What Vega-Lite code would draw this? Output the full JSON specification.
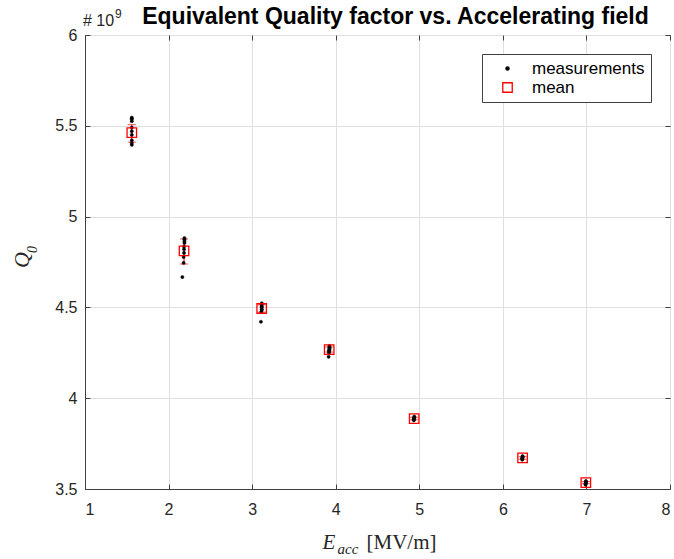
{
  "$schema": "https://vega.github.io/schema/vega-lite/v6.json",
  "width": 585,
  "height": 454,
  "autosize": "none",
  "padding": {"left": 85, "top": 35, "right": 4, "bottom": 70},
  "background": "white",
  "config": {"view": {"stroke": "#404040", "strokeWidth": 1}, "font": "Liberation Sans"},
  "title": {"text": "Equivalent Quality factor vs. Accelerating field", "fontSize": 23, "fontWeight": "bold", "font": "Liberation Sans", "color": "black", "anchor": "middle", "dx": 18, "offset": -21},
  "datasets": {
    "meas": [
      {"E": 1.56, "Q": 5.545, "series": "measurements"},
      {"E": 1.56, "Q": 5.54, "series": "measurements"},
      {"E": 1.56, "Q": 5.535, "series": "measurements"},
      {"E": 1.56, "Q": 5.525, "series": "measurements"},
      {"E": 1.56, "Q": 5.49, "series": "measurements"},
      {"E": 1.56, "Q": 5.47, "series": "measurements"},
      {"E": 1.56, "Q": 5.45, "series": "measurements"},
      {"E": 1.56, "Q": 5.42, "series": "measurements"},
      {"E": 1.56, "Q": 5.405, "series": "measurements"},
      {"E": 1.56, "Q": 5.395, "series": "measurements"},
      {"E": 2.19, "Q": 4.882, "series": "measurements"},
      {"E": 2.19, "Q": 4.875, "series": "measurements"},
      {"E": 2.19, "Q": 4.865, "series": "measurements"},
      {"E": 2.19, "Q": 4.855, "series": "measurements"},
      {"E": 2.185, "Q": 4.835, "series": "measurements"},
      {"E": 2.185, "Q": 4.82, "series": "measurements"},
      {"E": 2.185, "Q": 4.8, "series": "measurements"},
      {"E": 2.18, "Q": 4.778, "series": "measurements"},
      {"E": 2.18, "Q": 4.745, "series": "measurements"},
      {"E": 2.165, "Q": 4.667, "series": "measurements"},
      {"E": 3.115, "Q": 4.523, "series": "measurements"},
      {"E": 3.115, "Q": 4.515, "series": "measurements"},
      {"E": 3.115, "Q": 4.505, "series": "measurements"},
      {"E": 3.115, "Q": 4.5, "series": "measurements"},
      {"E": 3.115, "Q": 4.49, "series": "measurements"},
      {"E": 3.115, "Q": 4.485, "series": "measurements"},
      {"E": 3.11, "Q": 4.475, "series": "measurements"},
      {"E": 3.105, "Q": 4.421, "series": "measurements"},
      {"E": 3.925, "Q": 4.288, "series": "measurements"},
      {"E": 3.925, "Q": 4.283, "series": "measurements"},
      {"E": 3.925, "Q": 4.278, "series": "measurements"},
      {"E": 3.925, "Q": 4.273, "series": "measurements"},
      {"E": 3.925, "Q": 4.268, "series": "measurements"},
      {"E": 3.92, "Q": 4.262, "series": "measurements"},
      {"E": 3.92, "Q": 4.257, "series": "measurements"},
      {"E": 3.92, "Q": 4.25, "series": "measurements"},
      {"E": 3.915, "Q": 4.228, "series": "measurements"},
      {"E": 4.94, "Q": 3.899, "series": "measurements"},
      {"E": 4.94, "Q": 3.894, "series": "measurements"},
      {"E": 4.94, "Q": 3.89, "series": "measurements"},
      {"E": 4.935, "Q": 3.886, "series": "measurements"},
      {"E": 4.935, "Q": 3.883, "series": "measurements"},
      {"E": 4.935, "Q": 3.878, "series": "measurements"},
      {"E": 6.236, "Q": 3.681, "series": "measurements"},
      {"E": 6.236, "Q": 3.677, "series": "measurements"},
      {"E": 6.236, "Q": 3.674, "series": "measurements"},
      {"E": 6.232, "Q": 3.669, "series": "measurements"},
      {"E": 6.232, "Q": 3.666, "series": "measurements"},
      {"E": 6.232, "Q": 3.661, "series": "measurements"},
      {"E": 6.994, "Q": 3.544, "series": "measurements"},
      {"E": 6.994, "Q": 3.54, "series": "measurements"},
      {"E": 6.994, "Q": 3.536, "series": "measurements"},
      {"E": 6.99, "Q": 3.532, "series": "measurements"},
      {"E": 6.99, "Q": 3.527, "series": "measurements"},
      {"E": 6.99, "Q": 3.523, "series": "measurements"}
    ],
    "means": [
      {"E": 1.56, "Q": 5.462, "lo": 5.41, "hi": 5.506, "series": "mean"},
      {"E": 2.185, "Q": 4.811, "lo": 4.739, "hi": 4.877, "series": "mean"},
      {"E": 3.114, "Q": 4.494, "lo": 4.474, "hi": 4.514, "series": "mean"},
      {"E": 3.922, "Q": 4.268, "lo": 4.254, "hi": 4.282, "series": "mean"},
      {"E": 4.939, "Q": 3.888, "lo": 3.881, "hi": 3.895, "series": "mean"},
      {"E": 6.236, "Q": 3.671, "lo": 3.664, "hi": 3.678, "series": "mean"},
      {"E": 6.993, "Q": 3.535, "lo": 3.529, "hi": 3.541, "series": "mean"}
    ],
    "one": [{}]
  },
  "resolve": {"axis": {"x": "independent", "y": "independent"}},
  "layer": [
    {
      "data": {"name": "means"},
      "mark": {"type": "rule", "color": "red", "strokeWidth": 1},
      "encoding": {
        "x": {"field": "E", "type": "quantitative", "scale": {"domain": [1, 8], "nice": false, "zero": false},
          "axis": {"orient": "bottom", "values": [1, 2, 3, 4, 5, 6, 7, 8], "title": null, "grid": true, "gridColor": "#dfdfdf", "tickSize": -5, "tickColor": "#404040", "domainColor": "#404040", "labelFontSize": 16, "labelColor": "#262626", "labelPadding": 17, "labelFont": "Liberation Sans"}},
        "y": {"field": "lo", "type": "quantitative", "scale": {"domain": [3.5, 6], "nice": false, "zero": false},
          "axis": {"orient": "left", "values": [3.5, 4, 4.5, 5, 5.5, 6], "format": ".1~f", "title": null, "grid": true, "gridColor": "#dfdfdf", "tickSize": -5, "tickColor": "#404040", "domainColor": "#404040", "labelFontSize": 16, "labelColor": "#262626", "labelPadding": 13, "labelFont": "Liberation Sans"}},
        "y2": {"field": "hi"}
      }
    },
    {
      "data": {"name": "means"},
      "mark": {"type": "tick", "orient": "horizontal", "size": 8, "thickness": 1, "color": "red"},
      "encoding": {
        "x": {"field": "E", "type": "quantitative", "scale": {"domain": [1, 8], "nice": false, "zero": false},
          "axis": {"orient": "top", "values": [1, 2, 3, 4, 5, 6, 7, 8], "title": null, "labels": false, "grid": false, "domain": false, "tickSize": -5, "tickColor": "#404040"}},
        "y": {"field": "lo", "type": "quantitative", "scale": {"domain": [3.5, 6], "nice": false, "zero": false},
          "axis": {"orient": "right", "values": [3.5, 4, 4.5, 5, 5.5, 6], "title": null, "labels": false, "grid": false, "domain": false, "tickSize": -5, "tickColor": "#404040"}}
      }
    },
    {
      "data": {"name": "means"},
      "mark": {"type": "tick", "orient": "horizontal", "size": 8, "thickness": 1, "color": "red"},
      "encoding": {
        "x": {"field": "E", "type": "quantitative", "axis": null},
        "y": {"field": "hi", "type": "quantitative", "axis": null}
      }
    },
    {
      "data": {"name": "meas"},
      "mark": {"type": "point", "strokeWidth": 0.5, "opacity": 1},
      "encoding": {
        "x": {"field": "E", "type": "quantitative", "axis": null},
        "y": {"field": "Q", "type": "quantitative", "axis": null},
        "fill": {"field": "series", "type": "nominal", "scale": {"domain": ["measurements", "mean"], "range": ["black", "transparent"]},
          "legend": {"orient": "none", "legendX": 397, "legendY": 19, "title": null, "labelFontSize": 17, "labelColor": "black", "labelFont": "Liberation Sans", "strokeColor": "#404040", "fillColor": "white", "padding": 6, "labelOffset": 16, "symbolOffset": 11, "rowPadding": 1, "symbolStrokeWidth": 1.3}},
        "stroke": {"field": "series", "type": "nominal", "scale": {"domain": ["measurements", "mean"], "range": ["black", "red"]}},
        "shape": {"field": "series", "type": "nominal", "scale": {"domain": ["measurements", "mean"], "range": ["circle", "square"]}},
        "size": {"field": "series", "type": "nominal", "scale": {"domain": ["measurements", "mean"], "range": [10, 90]}}
      }
    },
    {
      "data": {"name": "means"},
      "mark": {"type": "point", "strokeWidth": 1.3, "opacity": 1},
      "encoding": {
        "x": {"field": "E", "type": "quantitative", "axis": null},
        "y": {"field": "Q", "type": "quantitative", "axis": null},
        "fill": {"field": "series", "type": "nominal"},
        "stroke": {"field": "series", "type": "nominal"},
        "shape": {"field": "series", "type": "nominal"},
        "size": {"field": "series", "type": "nominal"}
      }
    },
    {
      "data": {"name": "one"},
      "mark": {"type": "text", "text": "# 10", "font": "Liberation Sans", "fontSize": 16, "align": "left", "baseline": "alphabetic", "dx": -2, "dy": -9, "color": "#262626"},
      "encoding": {"x": {"datum": 1, "type": "quantitative", "axis": null}, "y": {"datum": 6, "type": "quantitative", "axis": null}}
    },
    {
      "data": {"name": "one"},
      "mark": {"type": "text", "text": "9", "font": "Liberation Sans", "fontSize": 12, "align": "left", "baseline": "alphabetic", "dx": 30, "dy": -17, "color": "#262626"},
      "encoding": {"x": {"datum": 1, "type": "quantitative", "axis": null}, "y": {"datum": 6, "type": "quantitative", "axis": null}}
    },
    {
      "data": {"name": "one"},
      "mark": {"type": "text", "text": "E", "font": "Liberation Serif", "fontStyle": "italic", "fontSize": 21, "align": "left", "baseline": "alphabetic", "dx": -55, "dy": 60, "color": "#262626"},
      "encoding": {"x": {"datum": 4.5, "type": "quantitative", "axis": null}, "y": {"datum": 3.5, "type": "quantitative", "axis": null}}
    },
    {
      "data": {"name": "one"},
      "mark": {"type": "text", "text": "acc", "font": "Liberation Serif", "fontStyle": "italic", "fontSize": 15, "align": "left", "baseline": "alphabetic", "dx": -40, "dy": 65, "color": "#262626"},
      "encoding": {"x": {"datum": 4.5, "type": "quantitative", "axis": null}, "y": {"datum": 3.5, "type": "quantitative", "axis": null}}
    },
    {
      "data": {"name": "one"},
      "mark": {"type": "text", "text": "[MV/m]", "font": "Liberation Serif", "fontSize": 21, "align": "left", "baseline": "alphabetic", "dx": -11, "dy": 60, "color": "#262626"},
      "encoding": {"x": {"datum": 4.5, "type": "quantitative", "axis": null}, "y": {"datum": 3.5, "type": "quantitative", "axis": null}}
    },
    {
      "data": {"name": "one"},
      "mark": {"type": "text", "text": "Q", "font": "Liberation Serif", "fontStyle": "italic", "fontSize": 22, "angle": 270, "align": "left", "baseline": "alphabetic", "dx": -6, "dy": -56, "color": "#262626"},
      "encoding": {"x": {"datum": 1, "type": "quantitative", "axis": null}, "y": {"datum": 4.75, "type": "quantitative", "axis": null}}
    },
    {
      "data": {"name": "one"},
      "mark": {"type": "text", "text": "0", "font": "Liberation Serif", "fontStyle": "italic", "fontSize": 14, "angle": 270, "align": "left", "baseline": "alphabetic", "dx": 9, "dy": -48, "color": "#262626"},
      "encoding": {"x": {"datum": 1, "type": "quantitative", "axis": null}, "y": {"datum": 4.75, "type": "quantitative", "axis": null}}
    }
  ]
}
